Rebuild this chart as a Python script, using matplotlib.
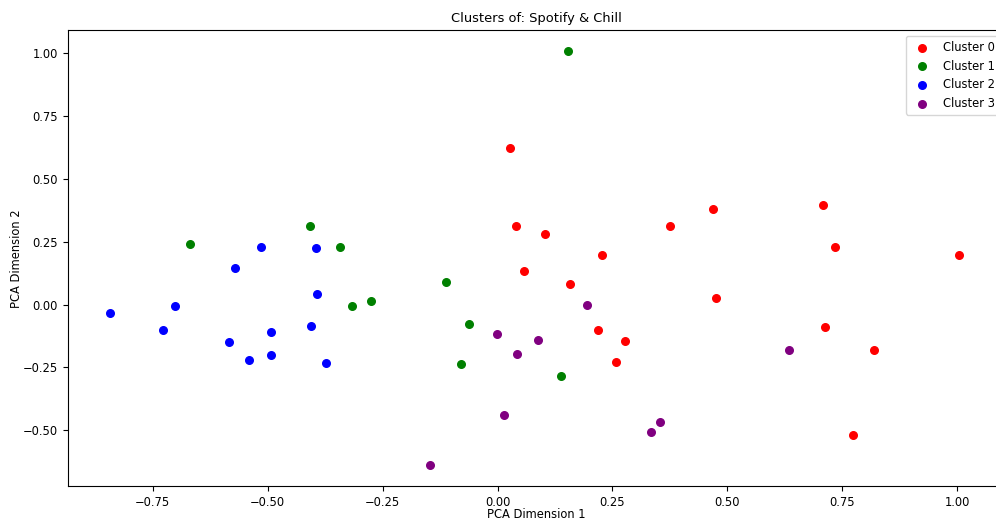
import matplotlib
matplotlib.use('Agg')
import matplotlib.pyplot as plt

cluster_names = ['Cluster 0', 'Cluster 1', 'Cluster 2', 'Cluster 3']
cluster_colors = ['red', 'green', 'blue', 'purple']

c0_x = [0.027, 0.040, 0.103, 0.057, 0.158, 0.227, 0.376, 0.469, 0.476, 0.219, 0.277, 0.258, 0.708, 0.735, 0.713, 0.819, 0.774, 1.003]
c0_y = [0.623, 0.313, 0.282, 0.135, 0.083, 0.198, 0.313, 0.381, 0.028, -0.103, -0.143, -0.230, 0.397, 0.230, -0.091, -0.179, -0.520, 0.198]

c1_x = [0.153, -0.669, -0.408, -0.343, -0.317, -0.275, -0.112, -0.062, -0.080, 0.138]
c1_y = [1.008, 0.242, 0.313, 0.230, -0.004, 0.016, 0.091, -0.079, -0.238, -0.286]

c2_x = [-0.844, -0.728, -0.702, -0.585, -0.572, -0.541, -0.515, -0.493, -0.493, -0.406, -0.395, -0.393, -0.373]
c2_y = [-0.032, -0.103, -0.004, -0.147, 0.147, -0.222, 0.230, -0.111, -0.202, -0.087, 0.226, 0.044, -0.234]

c3_x = [-0.147, -0.001, 0.014, 0.042, 0.088, 0.195, 0.334, 0.353, 0.634]
c3_y = [-0.639, -0.119, -0.440, -0.198, -0.139, 0.000, -0.508, -0.468, -0.179]

xs = [c0_x, c1_x, c2_x, c3_x]
ys = [c0_y, c1_y, c2_y, c3_y]

plt.rcParams['font.size'] = 8.3
fig = plt.figure(figsize=(9.96, 5.19), dpi=100)
# right edge of the axes runs a little past the picture, as in the reference
ax = fig.add_axes([0.068, 0.0635, 0.941, 0.878])
for x, y, name, col in zip(xs, ys, cluster_names, cluster_colors):
    ax.scatter(x, y, c=col, s=30, label=name)

ax.set_title('Clusters of: Spotify & Chill', fontsize=9.4)
ax.set_xlabel('PCA Dimension 1', labelpad=-0.9)
ax.set_ylabel('PCA Dimension 2', labelpad=0)
ax.set_xlim(-0.935, 1.104)
ax.set_ylim(-0.722, 1.091)
ax.legend(loc='upper right')
fig.savefig('out.png')
